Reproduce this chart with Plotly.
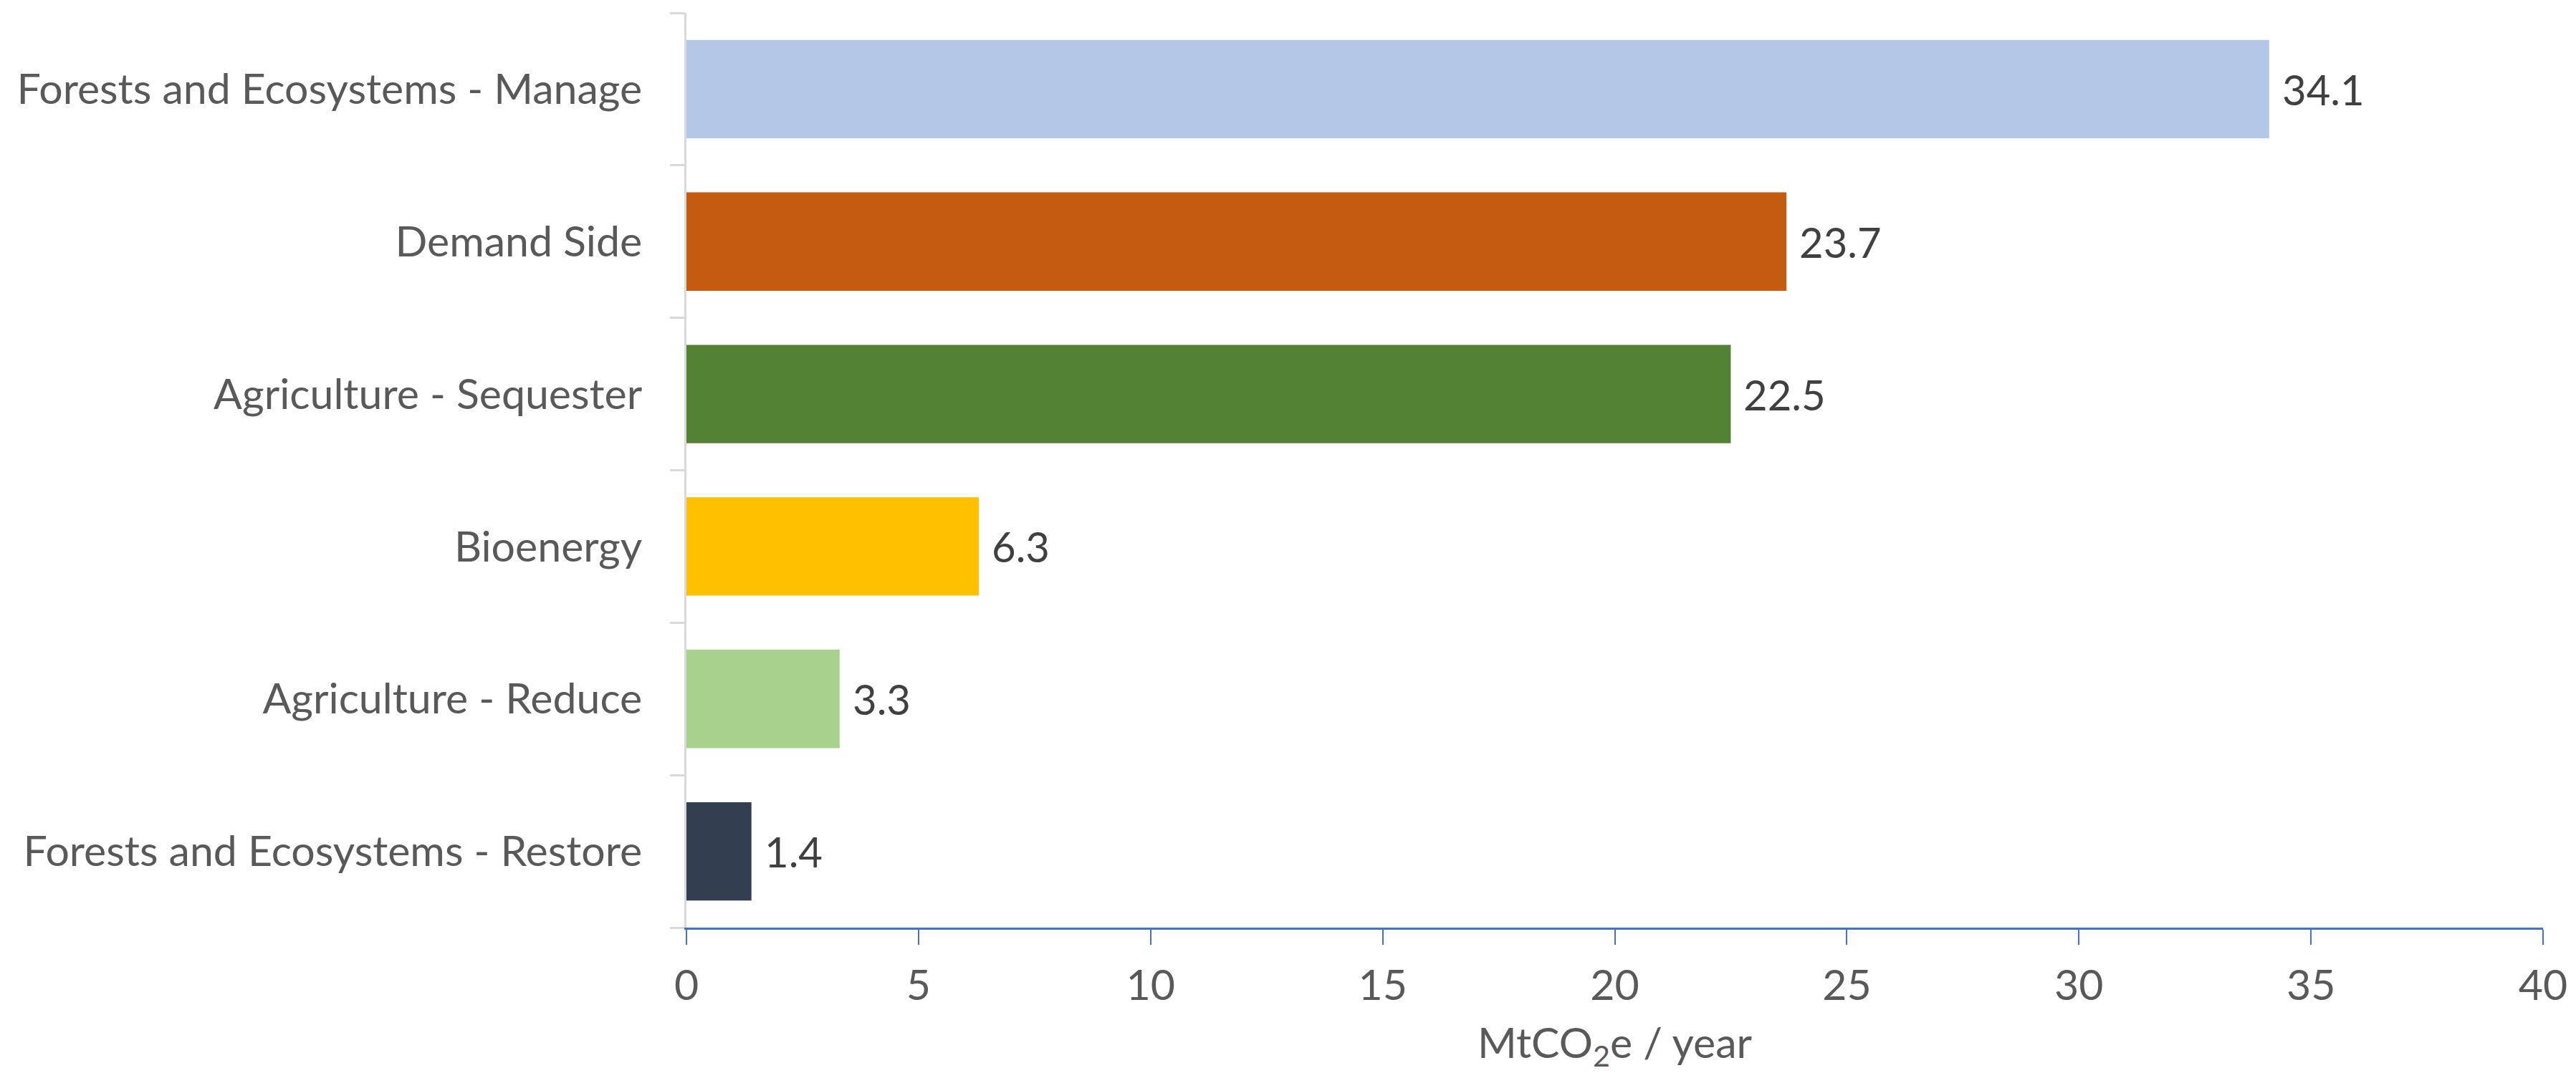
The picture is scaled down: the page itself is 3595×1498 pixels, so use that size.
import plotly.graph_objects as go

categories = [
    "Forests and Ecosystems - Restore",
    "Agriculture - Reduce",
    "Bioenergy",
    "Agriculture - Sequester",
    "Demand Side",
    "Forests and Ecosystems - Manage",
]
values = [1.4, 3.3, 6.3, 22.5, 23.7, 34.1]
colors = ["#333f50", "#a9d18e", "#ffc000", "#548235", "#c55a11", "#b4c7e7"]
x_ticks = [0, 5, 10, 15, 20, 25, 30, 35, 40]
x_title = "MtCO<sub>2</sub>e / year"

FONT = "Lato, Calibri, Carlito, sans-serif"
FS = 59

fig = go.Figure()
fig.add_trace(go.Bar(
    y=categories, x=values, orientation="h",
    marker=dict(color=colors, line=dict(width=0)),
    hoverinfo="skip",
))

for c, v in zip(categories, values):
    fig.add_annotation(
        x=v, y=c, text=f"{v:.1f}", showarrow=False,
        xanchor="left", yanchor="middle", xshift=16,
        font=dict(family=FONT, size=58, color="#404040"),
    )

fig.update_layout(
    width=3595, height=1498,
    margin=dict(l=958, r=41, t=18, b=203),
    paper_bgcolor="white", plot_bgcolor="white",
    bargap=0.355,
    showlegend=False,
    font=dict(family=FONT, size=FS, color="#595959"),
)
fig.update_xaxes(
    range=[0, 40], tickvals=x_ticks, ticktext=[str(t) for t in x_ticks],
    showgrid=False, zeroline=False,
    showline=True, linecolor="#4472c4", linewidth=3,
    ticks="outside", ticklen=21, tickwidth=2, tickcolor="#4472c4",
    ticklabelstandoff=6,
    tickfont=dict(family=FONT, size=FS, color="#595959"),
    title=dict(text=x_title, standoff=30, font=dict(family=FONT, size=FS, color="#595959")),
)
fig.update_yaxes(
    type="category", categoryorder="array", categoryarray=categories,
    showgrid=False, zeroline=False,
    showline=True, linecolor="#d9d9d9", linewidth=3,
    ticks="outside", ticklen=20, tickwidth=3, tickcolor="#d9d9d9",
    tickson="boundaries",
    ticklabelstandoff=47,
    tickfont=dict(family=FONT, size=FS, color="#595959"),
)

fig.write_html("out.html")
